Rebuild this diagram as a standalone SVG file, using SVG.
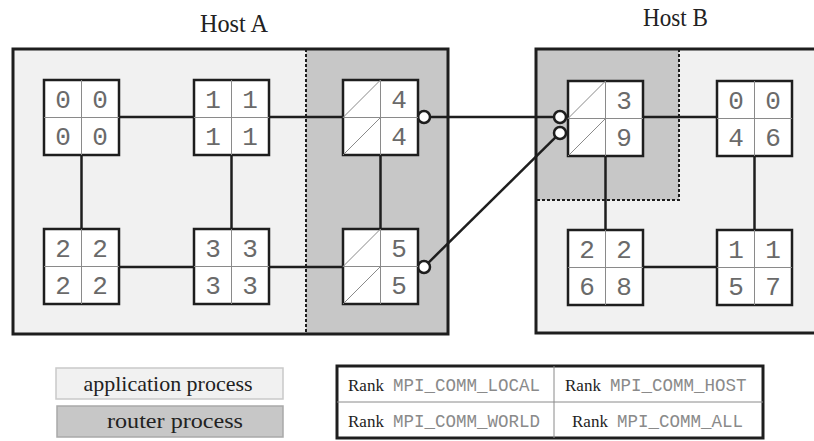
<svg xmlns="http://www.w3.org/2000/svg" width="814" height="441" viewBox="0 0 814 441">
  <defs>
    <style>
      .host { stroke: #1e1e1e; stroke-width: 3; fill: none; }
      .app { fill: #f1f1f1; }
      .router { fill: #c7c7c7; }
      .dash { stroke: #1e1e1e; stroke-width: 2; stroke-dasharray: 3 2; fill: none; }
      .box { fill: #ffffff; stroke: #1e1e1e; stroke-width: 2.5; }
      .div { stroke: #8a8a8a; stroke-width: 1; fill: none; }
      .diag { stroke: #8a8a8a; stroke-width: 1; fill: none; }
      .num { font-family: "Liberation Mono", "DejaVu Sans Mono", monospace; font-size: 26px; fill: #6a6a6a; text-anchor: middle; }
      .wire { stroke: #1e1e1e; stroke-width: 2.5; fill: none; }
      .port { stroke: #1e1e1e; stroke-width: 2.5; fill: #ffffff; }
      .label { font-family: "Liberation Serif", "Times New Roman", serif; fill: #222222; text-anchor: middle; }
      .rank { font-family: "Liberation Serif", "Times New Roman", serif; font-size: 17px; fill: #222222; }
      .mono { font-family: "Liberation Mono", "Courier New", monospace; font-size: 17.5px; fill: #8a8a8a; }
    </style>
  </defs>

  <!-- Host A -->
  <g id="hostA">
    <rect class="app" x="13" y="49" width="293" height="285"/>
    <rect class="router" x="306" y="49" width="142" height="285"/>
    <line class="dash" x1="306" y1="49" x2="306" y2="334"/>
    <rect class="host" x="13" y="49" width="435" height="285"/>
    <text class="label" x="234" y="32" font-size="25" textLength="68" lengthAdjust="spacingAndGlyphs">Host A</text>
  </g>

  <!-- Host B -->
  <g id="hostB">
    <rect class="app" x="536" y="49" width="290" height="284"/>
    <rect class="router" x="536" y="49" width="143" height="151"/>
    <polyline class="dash" points="679,49 679,200 536,200"/>
    <rect class="host" x="536" y="49" width="290" height="284"/>
    <text class="label" x="675.5" y="26" font-size="25" textLength="65" lengthAdjust="spacingAndGlyphs">Host B</text>
  </g>

  <!-- Connectors -->
  <g id="connectors">
    <line class="wire" x1="119" y1="117" x2="194" y2="117"/>
    <line class="wire" x1="269" y1="117" x2="343" y2="117"/>
    <line class="wire" x1="119" y1="267" x2="194" y2="267"/>
    <line class="wire" x1="269" y1="267" x2="343" y2="267"/>
    <line class="wire" x1="81.5" y1="155" x2="81.5" y2="229"/>
    <line class="wire" x1="231.5" y1="155" x2="231.5" y2="229"/>
    <line class="wire" x1="380.5" y1="155" x2="380.5" y2="229"/>
    <line class="wire" x1="430" y1="117" x2="554" y2="117"/>
    <line class="wire" x1="428.3" y1="262.8" x2="555.7" y2="137.2"/>
    <line class="wire" x1="643" y1="117" x2="717" y2="117"/>
    <line class="wire" x1="643" y1="267" x2="717" y2="267"/>
    <line class="wire" x1="605.5" y1="156" x2="605.5" y2="230"/>
    <line class="wire" x1="754.5" y1="156" x2="754.5" y2="230"/>
    <circle class="port" cx="424" cy="117" r="6"/>
    <circle class="port" cx="424" cy="267" r="6"/>
    <circle class="port" cx="560" cy="117" r="6"/>
    <circle class="port" cx="560" cy="133" r="6"/>
  </g>

  <!-- Process nodes: four cells each -->
  <g id="nodeA0">
    <rect class="box" x="44" y="80" width="75" height="75"/>
    <line class="div" x1="81.5" y1="80" x2="81.5" y2="155"/>
    <line class="div" x1="44" y1="117.5" x2="119" y2="117.5"/>
    <text class="num" x="63" y="108">0</text><text class="num" x="100" y="108">0</text>
    <text class="num" x="63" y="145">0</text><text class="num" x="100" y="145">0</text>
  </g>
  <g id="nodeA1">
    <rect class="box" x="194" y="80" width="75" height="75"/>
    <line class="div" x1="231.5" y1="80" x2="231.5" y2="155"/>
    <line class="div" x1="194" y1="117.5" x2="269" y2="117.5"/>
    <text class="num" x="213" y="108">1</text><text class="num" x="250" y="108">1</text>
    <text class="num" x="213" y="145">1</text><text class="num" x="250" y="145">1</text>
  </g>
  <g id="nodeA4">
    <rect class="box" x="343" y="80" width="75" height="75"/>
    <line class="div" x1="380.5" y1="80" x2="380.5" y2="155"/>
    <line class="div" x1="343" y1="117.5" x2="418" y2="117.5"/>
    <line class="diag" x1="343" y1="117.5" x2="380.5" y2="80"/>
    <line class="diag" x1="343" y1="155" x2="380.5" y2="117.5"/>
    <text class="num" x="399" y="108">4</text>
    <text class="num" x="399" y="145">4</text>
  </g>
  <g id="nodeA2">
    <rect class="box" x="44" y="229" width="75" height="75"/>
    <line class="div" x1="81.5" y1="229" x2="81.5" y2="304"/>
    <line class="div" x1="44" y1="266.5" x2="119" y2="266.5"/>
    <text class="num" x="63" y="257">2</text><text class="num" x="100" y="257">2</text>
    <text class="num" x="63" y="294">2</text><text class="num" x="100" y="294">2</text>
  </g>
  <g id="nodeA3">
    <rect class="box" x="194" y="229" width="75" height="75"/>
    <line class="div" x1="231.5" y1="229" x2="231.5" y2="304"/>
    <line class="div" x1="194" y1="266.5" x2="269" y2="266.5"/>
    <text class="num" x="213" y="257">3</text><text class="num" x="250" y="257">3</text>
    <text class="num" x="213" y="294">3</text><text class="num" x="250" y="294">3</text>
  </g>
  <g id="nodeA5">
    <rect class="box" x="343" y="229" width="75" height="75"/>
    <line class="div" x1="380.5" y1="229" x2="380.5" y2="304"/>
    <line class="div" x1="343" y1="266.5" x2="418" y2="266.5"/>
    <line class="diag" x1="343" y1="266.5" x2="380.5" y2="229"/>
    <line class="diag" x1="343" y1="304" x2="380.5" y2="266.5"/>
    <text class="num" x="399" y="257">5</text>
    <text class="num" x="399" y="294">5</text>
  </g>
  <g id="nodeB3">
    <rect class="box" x="568" y="81" width="75" height="75"/>
    <line class="div" x1="605.5" y1="81" x2="605.5" y2="156"/>
    <line class="div" x1="568" y1="118.5" x2="643" y2="118.5"/>
    <line class="diag" x1="568" y1="118.5" x2="605.5" y2="81"/>
    <line class="diag" x1="568" y1="156" x2="605.5" y2="118.5"/>
    <text class="num" x="624" y="109">3</text>
    <text class="num" x="624" y="146">9</text>
  </g>
  <g id="nodeB0">
    <rect class="box" x="717" y="81" width="75" height="75"/>
    <line class="div" x1="754.5" y1="81" x2="754.5" y2="156"/>
    <line class="div" x1="717" y1="118.5" x2="792" y2="118.5"/>
    <text class="num" x="736" y="109">0</text><text class="num" x="773" y="109">0</text>
    <text class="num" x="736" y="146">4</text><text class="num" x="773" y="146">6</text>
  </g>
  <g id="nodeB2">
    <rect class="box" x="568" y="230" width="75" height="75"/>
    <line class="div" x1="605.5" y1="230" x2="605.5" y2="305"/>
    <line class="div" x1="568" y1="267.5" x2="643" y2="267.5"/>
    <text class="num" x="587" y="258">2</text><text class="num" x="624" y="258">2</text>
    <text class="num" x="587" y="295">6</text><text class="num" x="624" y="295">8</text>
  </g>
  <g id="nodeB1">
    <rect class="box" x="717" y="230" width="75" height="75"/>
    <line class="div" x1="754.5" y1="230" x2="754.5" y2="305"/>
    <line class="div" x1="717" y1="267.5" x2="792" y2="267.5"/>
    <text class="num" x="736" y="258">1</text><text class="num" x="773" y="258">1</text>
    <text class="num" x="736" y="295">5</text><text class="num" x="773" y="295">7</text>
  </g>

  <!-- Legend -->
  <g id="legend">
    <rect x="56" y="368" width="227" height="31" fill="#f1f1f1" stroke="#c9c9c9" stroke-width="1.5"/>
    <rect x="57" y="406" width="226" height="31" fill="#c7c7c7" stroke="#a9a9a9" stroke-width="1.5"/>
    <text class="label" x="168" y="391" font-size="21" textLength="169" lengthAdjust="spacingAndGlyphs" fill="#333">application process</text>
    <text class="label" x="175" y="428" font-size="21" textLength="136" lengthAdjust="spacingAndGlyphs" fill="#333">router process</text>
  </g>

  <!-- Rank key -->
  <g id="rankKey">
    <rect x="337" y="366" width="426" height="72" fill="#ffffff" stroke="#1e1e1e" stroke-width="3"/>
    <line class="div" x1="554" y1="366" x2="554" y2="438"/>
    <line class="div" x1="337" y1="402" x2="763" y2="402"/>
    <text x="348" y="391"><tspan class="rank">Rank</tspan><tspan class="mono" x="393">MPI_COMM_LOCAL</tspan></text>
    <text x="565" y="391"><tspan class="rank">Rank</tspan><tspan class="mono" x="610">MPI_COMM_HOST</tspan></text>
    <text x="348" y="427"><tspan class="rank">Rank</tspan><tspan class="mono" x="393">MPI_COMM_WORLD</tspan></text>
    <text x="572" y="427"><tspan class="rank">Rank</tspan><tspan class="mono" x="617">MPI_COMM_ALL</tspan></text>
  </g>
</svg>
